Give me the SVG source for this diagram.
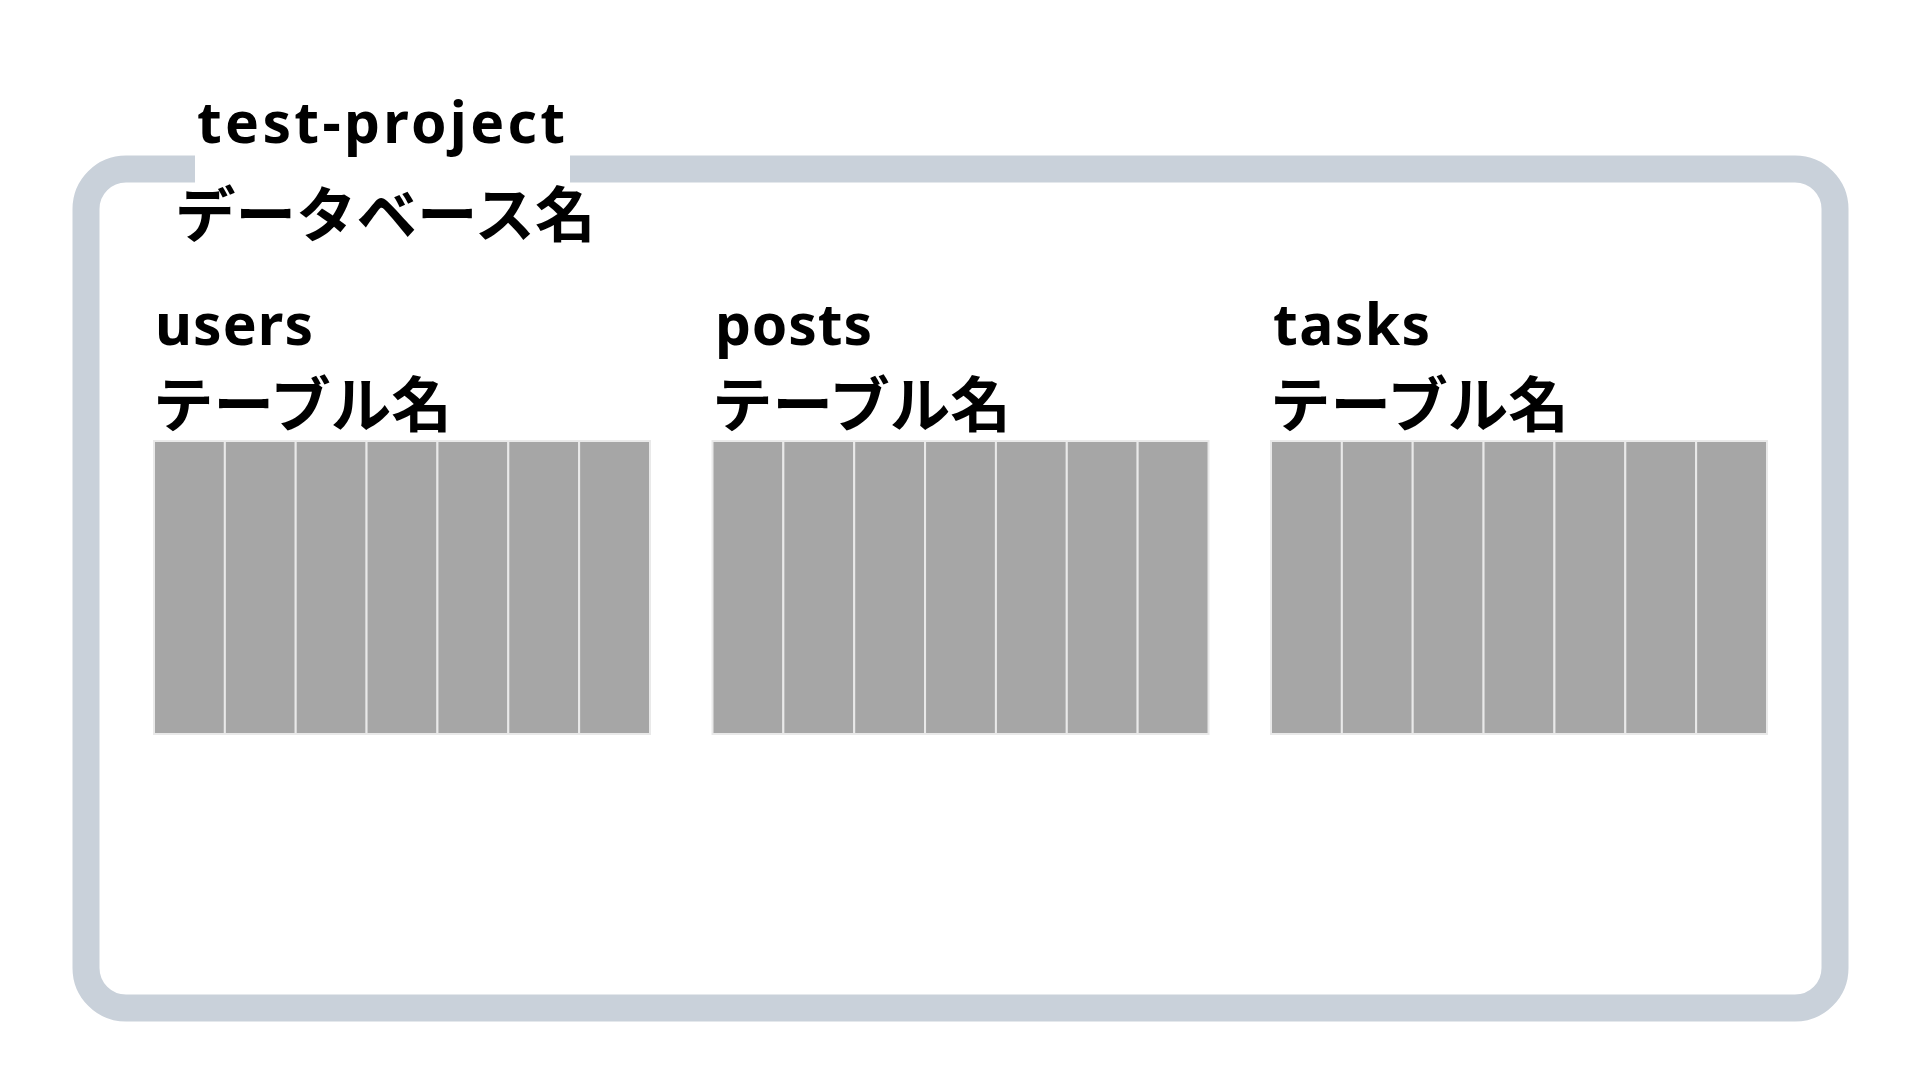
<svg xmlns="http://www.w3.org/2000/svg" xmlns:xlink="http://www.w3.org/1999/xlink" width="1920" height="1080" viewBox="0 0 1920 1080">
  <style>
    .frame { fill: none; stroke: #c9d1da; stroke-width: 27; }
    .lat { font-family: "Noto Sans", "Noto Sans CJK JP", sans-serif; font-weight: 700; font-size: 57px; fill: #000; }
    .jp { font-family: "Noto Sans CJK JP", "Noto Sans", sans-serif; font-weight: 700; font-size: 60.5px; fill: #000; }
    .col { fill: #a6a6a6; stroke: #e9e9e9; stroke-width: 2; }
  </style>
  <defs>
    <g id="columns">
      <rect class="col" x="0" y="0" width="70.86" height="293"/>
      <rect class="col" x="70.86" y="0" width="70.86" height="293"/>
      <rect class="col" x="141.71" y="0" width="70.86" height="293"/>
      <rect class="col" x="212.57" y="0" width="70.86" height="293"/>
      <rect class="col" x="283.43" y="0" width="70.86" height="293"/>
      <rect class="col" x="354.29" y="0" width="70.86" height="293"/>
      <rect class="col" x="425.14" y="0" width="70.86" height="293"/>
    </g>
  </defs>
  <rect x="0" y="0" width="1920" height="1080" fill="#ffffff"/>

  <g id="database">
    <rect class="frame" x="86" y="169" width="1749" height="839" rx="40" ry="40"/>
    <rect x="195" y="150" width="375" height="40" fill="#ffffff"/>
    <text class="lat" x="197" y="143" textLength="368" lengthAdjust="spacing">test-project</text>
    <text class="jp" x="175" y="237">データベース名</text>
  </g>

  <g id="table-users">
    <text class="lat" x="155" y="345" textLength="158" lengthAdjust="spacing">users</text>
    <text class="jp" x="153" y="427">テーブル名</text>
    <use xlink:href="#columns" href="#columns" x="154" y="441"/>
  </g>

  <g id="table-posts">
    <text class="lat" x="715" y="345" textLength="157" lengthAdjust="spacing">posts</text>
    <text class="jp" x="712" y="427">テーブル名</text>
    <use xlink:href="#columns" href="#columns" x="712.5" y="441"/>
  </g>

  <g id="table-tasks">
    <text class="lat" x="1273" y="345" textLength="157" lengthAdjust="spacing">tasks</text>
    <text class="jp" x="1270" y="427">テーブル名</text>
    <use xlink:href="#columns" href="#columns" x="1271" y="441"/>
  </g>

  <g id="connectors"/>
</svg>
